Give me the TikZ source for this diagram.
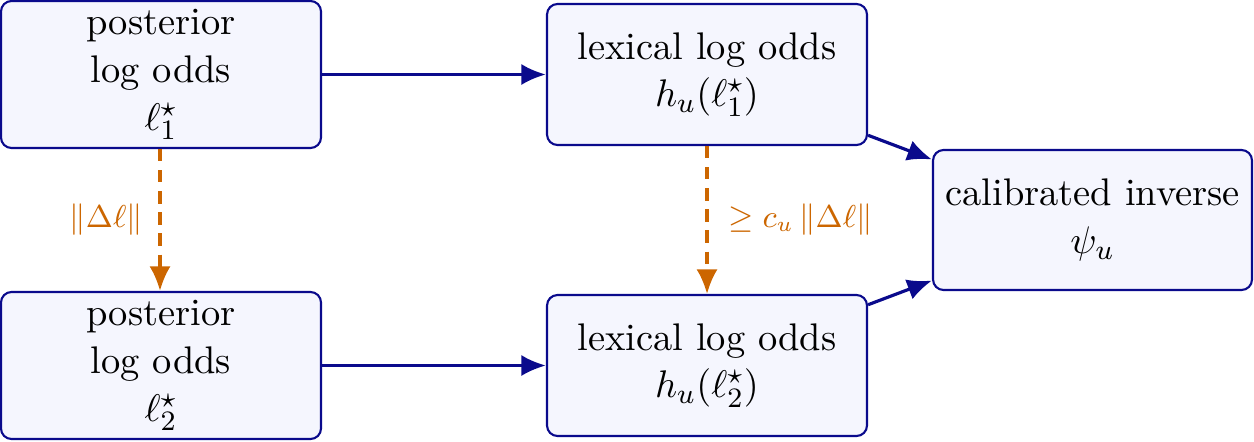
\documentclass[tikz,border=0pt]{standalone}
\usetikzlibrary{arrows.meta}
\definecolor{boxline}{RGB}{10,10,140}
\definecolor{boxfill}{RGB}{245,246,254}
\definecolor{gapcol}{RGB}{204,102,0}
\begin{document}
\begin{tikzpicture}[x=1cm,y=1cm,
  stagebox/.style={draw=boxline, fill=boxfill, line width=0.6pt, rounded corners=3pt,
    align=center, inner sep=0pt, font=\fontsize{10.95}{13.6}\selectfont},
  flow/.style={draw=boxline, line width=0.9pt, -{Latex[length=7pt,width=6pt]}},
  gap/.style={draw=gapcol, line width=0.9pt, dash pattern=on 3.5pt off 2.5pt, -{Latex[length=7pt,width=6pt]}},
  gaplabel/.style={text=gapcol, font=\small}]
\useasboundingbox (0,0) rectangle (12.54,4.41);
\node[stagebox, minimum width=3.2cm, minimum height=1.47cm] (A) at (1.61,3.665) {posterior\\log odds\\$\ell^\star_1$};
\node[stagebox, minimum width=3.2cm, minimum height=1.47cm] (C) at (1.61,0.755) {posterior\\log odds\\$\ell^\star_2$};
\node[stagebox, minimum width=3.2cm, minimum height=1.41cm] (B) at (7.07,3.665) {lexical log odds\\$h_u(\ell^\star_1)$};
\node[stagebox, minimum width=3.2cm, minimum height=1.41cm] (D) at (7.07,0.755) {lexical log odds\\$h_u(\ell^\star_2)$};
\node[stagebox, minimum width=3.19cm, minimum height=1.40cm] (E) at (10.925,2.21) {calibrated inverse\\$\psi_u$};
\draw[flow] (A) -- (B);
\draw[flow] (C) -- (D);
\draw[flow] (B) -- (E);
\draw[flow] (D) -- (E);
\draw[gap] ([xshift=-0.01cm]A.south) -- node[gaplabel, left=0.04cm] {$\|\Delta\ell\|$} ([xshift=-0.01cm]C.north);
\draw[gap] (B.south) -- node[gaplabel, right=0.08cm] {$\geq c_u\,\|\Delta\ell\|$} (D.north);
\end{tikzpicture}
\end{document}
